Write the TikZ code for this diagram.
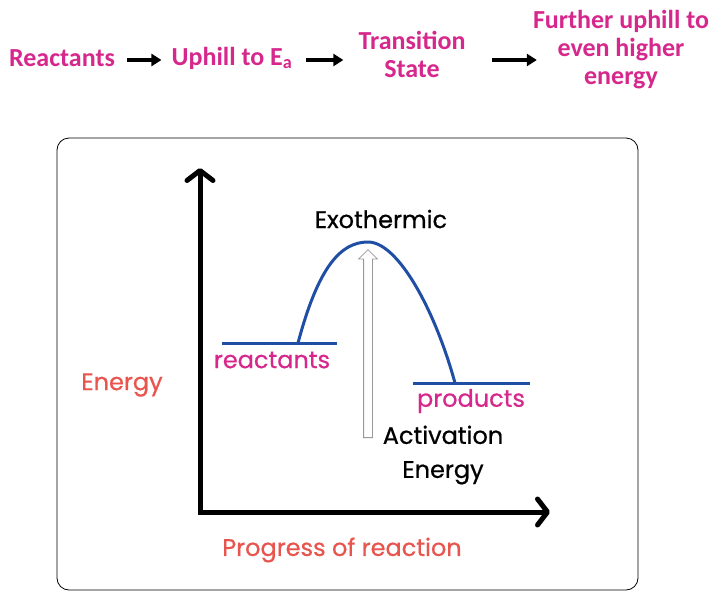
\documentclass[tikz,border=0pt]{standalone}
\usepackage{fontspec}
\usepackage{tikz}
\usetikzlibrary{arrows.meta,shapes.arrows}
\newfontfamily\topfont{Carlito}
\newfontfamily\labfont[FakeBold=0.6]{Poppins}
\definecolor{pinktxt}{RGB}{214,40,140}
\definecolor{redtxt}{RGB}{232,84,78}
\definecolor{curveblue}{RGB}{32,78,165}
\tikzset{
  steptext/.style={font=\topfont\bfseries\fontsize{26}{28}\selectfont, text=pinktxt, align=center, inner sep=2pt},
  flow/.style={line width=3.5pt, -{Triangle[length=10pt,width=12pt]}},
  axis/.style={line width=5pt, {Straight Barb[round,length=10pt,width=26pt]}-{Straight Barb[round,length=10pt,width=26pt]}},
  level/.style={curveblue, line width=3pt},
  lab/.style={font=\labfont\fontsize{24}{34}\selectfont, align=center, inner sep=1pt}
}
\begin{document}
\begin{tikzpicture}[x=1pt,y=-1pt]
 \useasboundingbox (0,0) rectangle (720,600);
 % flow of steps across the top
 \node[steptext] (reac) at (62,58) {Reactants};
 \node[steptext] (uphill) at (232,58) {Uphill to E\textsubscript{a}};
 \node[steptext] (trans) at (412,54) {Transition\\State};
 \node[steptext] (further) at (621,50) {Further uphill to\\even higher\\energy};
 \draw[flow, shorten <=10pt, shorten >=8pt] (reac.east |- 0,60) -- (uphill.west |- 0,60);
 \draw[flow, shorten <=11pt, shorten >=13pt] (uphill.east |- 0,60) -- (trans.west |- 0,60);
 \draw[flow, shorten <=24pt, shorten >=-6pt] (trans.east |- 0,60) -- (further.west |- 0,60);

 % the diagram
 \draw[thick, rounded corners=12pt] (57,138) rectangle (638,590);
 \coordinate (ytop) at (200,168);
 \coordinate (origin) at (200,512);
 \coordinate (xend) at (550,512);
 \draw[axis] (ytop) -- (origin) -- (xend);
 \node[lab, text=redtxt] (energy) at (122,385) {Energy};
 \node[lab, text=redtxt] (progress) at (342,550) {Progress of reaction};

 \coordinate (rleft) at (222,343);
 \coordinate (rstart) at (298,343);
 \coordinate (rright) at (337,343);
 \coordinate (peak) at (368,242);
 \coordinate (pend) at (455,383);
 \coordinate (pleft) at (413,383);
 \coordinate (pright) at (530,383);
 \draw[level] (rleft) -- (rright);
 \draw[level] (pleft) -- (pright);
 \draw[level] (rstart) .. controls (318,268) and (340,242) .. (peak)
   .. controls (398,242) and (435,310) .. (pend);
 \node[lab, text=pinktxt] (reaclab) at (272,360) {reactants};
 \node[lab, text=pinktxt] (prodlab) at (471,401) {products};
 \node[lab] (exo) at (381,219) {Exothermic};

 \node[single arrow, draw=gray!80, fill=white, thick, rotate=90, inner sep=4pt,
   minimum height=188pt, single arrow head extend=5pt, single arrow head indent=0pt,
   anchor=tail] (act) at (368,438) {};
 \node[lab] (actlab) at (443,455) {Activation\\Energy};
\end{tikzpicture}
\end{document}
